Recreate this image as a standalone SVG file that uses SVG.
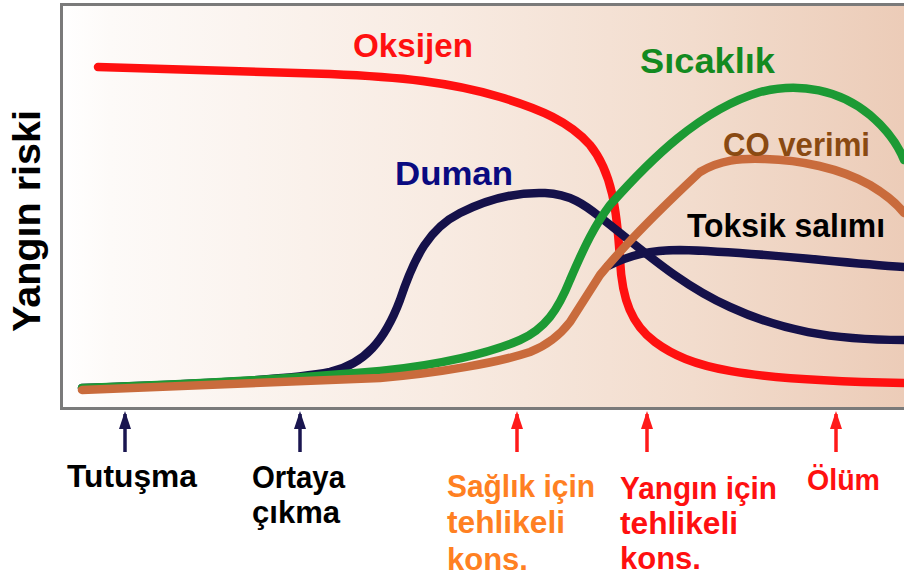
<svg xmlns="http://www.w3.org/2000/svg" width="904" height="582" viewBox="0 0 904 582">
  <defs>
    <linearGradient id="bg" x1="60" y1="0" x2="904" y2="0" gradientUnits="userSpaceOnUse">
      <stop offset="0" stop-color="#ffffff"/>
      <stop offset="0.06" stop-color="#fdfaf8"/>
      <stop offset="0.45" stop-color="#f8ebe2"/>
      <stop offset="0.75" stop-color="#f2dccd"/>
      <stop offset="1" stop-color="#ecccb8"/>
    </linearGradient>
    <marker id="ahNavy" viewBox="0 0 18 12" refX="15" refY="6" markerWidth="18" markerHeight="12" markerUnits="userSpaceOnUse" orient="auto">
      <path d="M18,6 L0,0 L0,12 Z" fill="#1a1650"/>
    </marker>
    <marker id="ahRed" viewBox="0 0 18 12" refX="15" refY="6" markerWidth="18" markerHeight="12" markerUnits="userSpaceOnUse" orient="auto">
      <path d="M18,6 L0,0 L0,12 Z" fill="#ff1a1a"/>
    </marker>
  </defs>
  <style>
    .t { font-family: "Liberation Sans", Arial, sans-serif; font-weight: bold; }
    .curve { fill: none; stroke-width: 8.5; stroke-linecap: round; stroke-linejoin: round; }
    .arr { stroke-width: 3.5; fill: none; }
  </style>

  <rect x="0" y="0" width="904" height="582" fill="#ffffff"/>

  <g id="chart-frame">
    <rect x="62" y="5" width="850" height="403" fill="url(#bg)"/>
    <path d="M904,4.5 L61.5,4.5 L61.5,408.5 L904,408.5" fill="none" stroke="#7a7a7a" stroke-width="3"/>
  </g>

  <g id="curves">
    <path id="oksijen-curve" class="curve" stroke="#ff1010" d="M98,67 L330,74 C400,77 450,82 500,97 C540,109 570,122 590,145 C612,172 617,210 620,260 C622,300 632,325 655,342 C690,368 740,380 904,383"/>
    <path id="duman-curve" class="curve" stroke="#15114a" d="M82,388 C200,384 290,380 330,372 C365,364 385,340 400,300 C415,255 430,228 460,213 C490,198 520,192 545,193 C570,194 585,205 600,217 C640,248 680,285 730,307 C780,330 830,340 904,340"/>
    <path id="toksik-curve" class="curve" stroke="#15114a" d="M608,266 C630,255 650,250 680,250 C760,252 830,262 904,267"/>
    <path id="sicaklik-curve" class="curve" stroke="#1c9a34" d="M82,388 C200,384 300,378 380,371 C440,365 490,353 520,340 C545,329 558,310 570,280 C585,245 595,225 610,205 C650,160 700,110 760,92 C800,82 840,90 870,115 C890,132 900,150 904,160"/>
    <path id="co-curve" class="curve" stroke="#c96b3c" d="M82,390 C200,386 300,382 380,378 C440,373 500,362 530,352 C548,345 560,335 570,322 L600,275 C630,238 670,200 700,172 C720,160 740,158 765,159 C800,160 840,168 870,185 C885,194 898,205 904,213"/>
  </g>

  <g id="curve-labels">
    <text id="oksijen" class="t" x="353" y="57" font-size="33" fill="#ff1010" textLength="120" lengthAdjust="spacingAndGlyphs">Oksijen</text>
    <text id="duman" class="t" x="395" y="185" font-size="34" fill="#0a0a80" textLength="118" lengthAdjust="spacingAndGlyphs">Duman</text>
    <text id="sicaklik" class="t" x="640" y="73" font-size="35" fill="#138a20" textLength="135" lengthAdjust="spacingAndGlyphs">Sıcaklık</text>
    <text id="co-verimi" class="t" x="723" y="156" font-size="33" fill="#8a4a12" textLength="147" lengthAdjust="spacingAndGlyphs">CO verimi</text>
    <text id="toksik" class="t" x="687" y="237" font-size="34" fill="#000000" textLength="198" lengthAdjust="spacingAndGlyphs">Toksik salımı</text>
    <text id="y-axis" class="t" font-size="39" fill="#000000" text-anchor="middle" transform="translate(40,221) rotate(-90)" textLength="222" lengthAdjust="spacingAndGlyphs">Yangın riski</text>
  </g>

  <g id="connectors">
    <line class="arr" x1="125" y1="452" x2="125" y2="414" stroke="#1a1650" marker-end="url(#ahNavy)"/>
    <line class="arr" x1="300" y1="452" x2="300" y2="414" stroke="#1a1650" marker-end="url(#ahNavy)"/>
    <line class="arr" x1="517" y1="452" x2="517" y2="414" stroke="#ff1a1a" marker-end="url(#ahRed)"/>
    <line class="arr" x1="647" y1="452" x2="647" y2="414" stroke="#ff1a1a" marker-end="url(#ahRed)"/>
    <line class="arr" x1="836" y1="452" x2="836" y2="414" stroke="#ff1a1a" marker-end="url(#ahRed)"/>
  </g>

  <g id="tutusma">
    <text class="t" x="67" y="487" font-size="31" fill="#000000" textLength="130" lengthAdjust="spacingAndGlyphs">Tutuşma</text>
  </g>
  <g id="ortaya-cikma">
    <text class="t" x="252" y="488" font-size="31" fill="#000000" textLength="93" lengthAdjust="spacingAndGlyphs">Ortaya</text>
    <text class="t" x="252" y="523" font-size="31" fill="#000000" textLength="88" lengthAdjust="spacingAndGlyphs">çıkma</text>
  </g>
  <g id="saglik">
    <text class="t" x="447" y="497" font-size="31" fill="#ff8022" textLength="148" lengthAdjust="spacingAndGlyphs">Sağlık için</text>
    <text class="t" x="447" y="533" font-size="31" fill="#ff8022" textLength="118" lengthAdjust="spacingAndGlyphs">tehlikeli</text>
    <text class="t" x="447" y="570" font-size="31" fill="#ff8022">kons.</text>
  </g>
  <g id="yangin">
    <text class="t" x="620" y="499" font-size="31" fill="#ff1010" textLength="157" lengthAdjust="spacingAndGlyphs">Yangın için</text>
    <text class="t" x="620" y="534" font-size="31" fill="#ff1010" textLength="118" lengthAdjust="spacingAndGlyphs">tehlikeli</text>
    <text class="t" x="620" y="569" font-size="31" fill="#ff1010">kons.</text>
  </g>
  <g id="olum">
    <text class="t" x="807" y="490" font-size="30" fill="#ff1010" textLength="73" lengthAdjust="spacingAndGlyphs">Ölüm</text>
  </g>
</svg>
